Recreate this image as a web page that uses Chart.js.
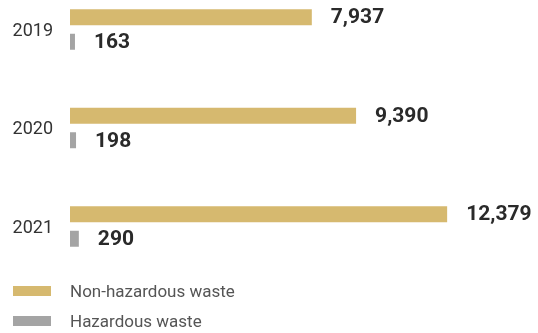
<!DOCTYPE html>
<html>
<head>
<meta charset="utf-8">
<script src="https://cdn.jsdelivr.net/npm/chart.js@4/dist/chart.umd.min.js"></script>
<style>
    html, body {
        margin: 0;
        padding: 0;
        background: #fff;
    }
    .chart-wrap {
        position: relative;
        width: 538px;
        height: 333px;
    }
    .waste-legend {
        position: absolute;
        left: 13px;
        top: 281px;
        margin: 0;
        padding: 0;
        list-style: none;
        font-family: Roboto, sans-serif;
        font-size: 17px;
        color: #555;
    }
    .waste-legend li {
        display: flex;
        align-items: center;
        height: 20px;
        margin-bottom: 10px;
    }
    .waste-legend .swatch {
        display: inline-block;
        width: 38px;
        height: 10px;
        margin-right: 19px;
    }
</style>
</head>
<body>
<div class="chart-wrap">
    <canvas id="wasteChart"></canvas>
    <ul class="waste-legend" id="wasteLegend"></ul>
</div>
<script>
const years = ['2019', '2020', '2021'];
const nonHazardous = [7937, 9390, 12379];
const hazardous = [163, 198, 290];

const GOLD = '#d6b96f';
const GREY = '#a4a4a4';

Chart.defaults.font.family = 'Roboto, sans-serif';

// writes the number next to the end of each bar
const barValueLabels = {
    id: 'barValueLabels',
    afterDatasetsDraw(chart) {
        const { ctx } = chart;
        ctx.save();
        ctx.font = 'bold 21px Roboto, sans-serif';
        ctx.fillStyle = '#2a2a2a';
        ctx.textAlign = 'left';
        ctx.textBaseline = 'middle';
        chart.data.datasets.forEach((ds, di) => {
            chart.getDatasetMeta(di).data.forEach((bar, i) => {
                ctx.fillText(ds.data[i].toLocaleString('en-US'), bar.x + 19, bar.y + 1);
            });
        });
        ctx.restore();
    },
};

// legend rendered as a plain list under the canvas
const htmlLegend = {
    id: 'htmlLegend',
    afterUpdate(chart) {
        const list = document.getElementById('wasteLegend');
        list.innerHTML = '';
        chart.options.plugins.legend.labels.generateLabels(chart).forEach((item) => {
            const li = document.createElement('li');
            const box = document.createElement('span');
            box.className = 'swatch';
            box.style.background = item.fillStyle;
            li.appendChild(box);
            li.appendChild(document.createTextNode(item.text));
            list.appendChild(li);
        });
    },
};

new Chart(document.getElementById('wasteChart'), {
    type: 'bar',
    data: {
        labels: years,
        datasets: [
            {
                label: 'Non-hazardous waste',
                data: nonHazardous,
                backgroundColor: GOLD,
                categoryPercentage: 0.4975,
                barPercentage: 0.653,
                clip: false,
            },
            {
                label: 'Hazardous waste',
                data: hazardous,
                backgroundColor: GREY,
                categoryPercentage: 0.4975,
                barPercentage: 0.653,
                clip: false,
            },
        ],
    },
    options: {
        indexAxis: 'y',
        responsive: true,
        maintainAspectRatio: false,
        animation: false,
        layout: {
            padding: { top: 29.5, bottom: 106.5, left: 0, right: 11 },
        },
        scales: {
            x: {
                display: false,
                min: 0,
                max: 15000,
            },
            y: {
                offset: false,
                grid: { display: false, drawTicks: false },
                border: { display: false },
                ticks: {
                    padding: 17,
                    labelOffset: 1.5,
                    color: '#333',
                    font: { size: 18 },
                },
                afterFit(scale) {
                    scale.width = 70;
                },
            },
        },
        plugins: {
            legend: { display: false },
            tooltip: { enabled: false },
        },
    },
    plugins: [barValueLabels, htmlLegend],
});
</script>
</body>
</html>
